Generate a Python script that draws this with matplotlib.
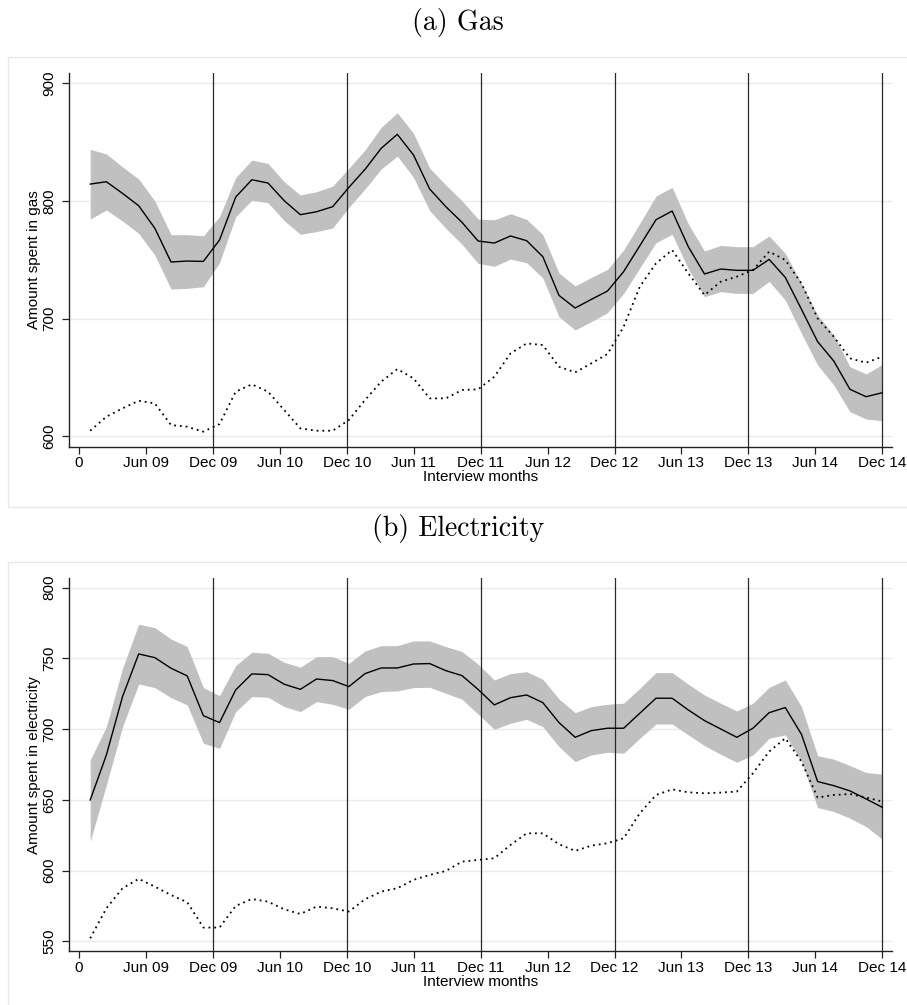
import numpy as np
import matplotlib
matplotlib.use("Agg")
import matplotlib.pyplot as plt
from matplotlib.patches import Rectangle

plt.rcParams['font.family'] = ['Liberation Sans', 'DejaVu Sans']

# survey waves, placed on a month axis (0 = Dec 08, 72 = Dec 14)
months = np.linspace(1, 72, 50)
tick_pos = [0, 6, 12, 18, 24, 30, 36, 42, 48, 54, 60, 66, 72]
tick_labels = ['0', 'Jun 09', 'Dec 09', 'Jun 10', 'Dec 10', 'Jun 11', 'Dec 11',
               'Jun 12', 'Dec 12', 'Jun 13', 'Dec 13', 'Jun 14', 'Dec 14']
dec_lines = [12, 24, 36, 48, 60, 72]

# gas
gas_mean = [814.4, 816.4, 806.5, 796.0, 776.8, 748.2, 749.0, 748.7, 766.9, 803.4,
            818.1, 815.3, 800.3, 788.4, 790.9, 795.2, 811.6, 826.9, 844.8, 856.7,
            839.1, 810.2, 795.2, 781.9, 766.0, 764.3, 770.3, 766.3, 752.7, 719.8,
            709.1, 716.4, 723.5, 740.0, 762.0, 784.1, 791.5, 761.2, 738.0, 742.2,
            741.1, 741.1, 750.4, 735.1, 708.0, 680.5, 664.0, 640.0, 633.7, 637.1]
gas_hi = [843.9, 840.0, 829.0, 818.7, 800.0, 771.4, 771.4, 770.5, 786.7, 820.0,
          834.8, 832.0, 816.4, 805.1, 807.9, 812.7, 827.8, 843.3, 862.6, 875.0,
          857.5, 828.0, 813.6, 800.3, 784.7, 784.0, 789.2, 784.4, 771.4, 738.8,
          727.8, 735.1, 741.9, 758.4, 781.0, 804.2, 811.6, 780.5, 757.5, 762.3,
          761.2, 761.2, 770.3, 755.5, 730.0, 703.1, 686.1, 659.2, 653.0, 661.2]
gas_lo = [784.7, 792.4, 783.0, 772.5, 754.0, 725.2, 725.8, 727.2, 747.6, 786.7,
          800.8, 798.6, 783.3, 771.7, 774.0, 777.1, 794.6, 810.2, 827.2, 838.2,
          820.1, 791.8, 776.8, 763.2, 747.0, 744.5, 750.7, 747.6, 734.6, 701.7,
          690.4, 697.5, 705.1, 721.5, 743.1, 764.6, 771.7, 742.5, 718.7, 723.0,
          721.5, 721.5, 731.7, 715.9, 687.5, 660.6, 643.6, 621.0, 614.7, 613.3]
gas_ref = [604.8, 616.7, 623.8, 630.3, 628.0, 609.6, 608.2, 604.0, 610.5, 638.0,
           644.2, 638.0, 622.4, 606.8, 604.8, 604.8, 613.9, 630.9, 646.5, 657.2,
           649.3, 632.3, 632.3, 639.4, 640.0, 650.7, 670.5, 679.0, 677.6, 659.2,
           654.4, 662.0, 670.0, 693.2, 727.2, 747.0, 758.4, 738.5, 720.1, 731.4,
           735.7, 741.4, 757.0, 749.9, 730.0, 700.3, 684.7, 666.3, 662.6, 667.7]

# electricity
elec_mean = [649.9, 681.7, 723.0, 753.1, 750.5, 743.0, 737.6, 709.5, 704.6, 727.7,
             739.0, 738.5, 731.7, 728.1, 735.4, 734.3, 730.0, 739.2, 743.2, 743.2,
             746.0, 746.3, 741.3, 737.8, 728.0, 717.1, 722.2, 724.1, 718.7, 704.6,
             694.2, 698.9, 700.6, 700.6, 711.2, 721.8, 721.8, 713.5, 706.0, 700.1,
             694.2, 700.6, 711.6, 715.2, 696.3, 662.9, 660.0, 656.3, 650.6, 644.7]
elec_hi = [678.2, 701.7, 743.0, 774.1, 771.7, 763.7, 758.3, 729.3, 723.7, 744.9,
           754.3, 753.6, 747.2, 743.7, 751.2, 751.2, 746.5, 755.2, 759.0, 759.0,
           762.3, 762.3, 758.3, 754.8, 745.8, 734.7, 739.2, 740.6, 735.2, 721.3,
           711.6, 715.9, 717.5, 718.3, 728.8, 739.9, 739.9, 731.7, 724.1, 718.3,
           712.8, 718.3, 729.5, 734.7, 715.9, 681.2, 678.7, 674.2, 669.3, 668.1]
elec_lo = [620.5, 660.5, 701.7, 731.9, 729.3, 722.2, 717.1, 690.0, 686.4, 712.3,
           723.0, 722.5, 715.9, 712.3, 719.4, 717.5, 714.0, 723.0, 726.5, 727.0,
           729.3, 729.5, 725.3, 721.1, 710.5, 699.9, 704.1, 706.9, 701.7, 687.6,
           677.0, 681.7, 683.6, 682.9, 693.5, 703.6, 703.6, 695.9, 688.3, 682.2,
           676.5, 681.7, 693.5, 695.9, 677.0, 644.5, 641.7, 637.0, 631.1, 622.1]
elec_ref = [552.1, 573.3, 587.5, 594.1, 588.6, 582.7, 577.6, 559.7, 559.7, 575.0,
            579.9, 578.0, 572.6, 569.3, 574.5, 573.3, 571.0, 579.7, 585.1, 587.5,
            593.4, 596.9, 599.7, 606.3, 607.5, 608.7, 618.1, 626.3, 626.3, 618.6,
            613.9, 617.6, 619.3, 622.8, 640.5, 653.4, 657.4, 655.3, 654.6, 655.1,
            655.8, 668.8, 684.1, 693.5, 677.0, 651.6, 653.4, 654.1, 651.6, 648.8]

fig = plt.figure(figsize=(9.07, 10.05), dpi=100)

# light frame around each panel
fig.patches.append(Rectangle((0.0092, 0.4955), 1.0, 0.4475, transform=fig.transFigure,
                             fill=False, edgecolor='#e8e8e8', lw=1))
fig.patches.append(Rectangle((0.0092, -0.01), 1.0, 0.4505, transform=fig.transFigure,
                             fill=False, edgecolor='#e8e8e8', lw=1))

fig.text(0.505, 0.9701, '(a) Gas', family='cmr10', fontsize=20, ha='center', va='baseline')
fig.text(0.505, 0.4662, '(b) Electricity', family='cmr10', fontsize=20, ha='center', va='baseline')


def panel(ax, mean, lo, hi, ref, ylim, yticks, ylabel):
    ax.fill_between(months, lo, hi, color='#c0c0c0', lw=0, zorder=1)
    ax.plot(months, mean, color='black', lw=1.0, zorder=3)
    ax.plot(months, ref, color='black', lw=1.3, linestyle=(0, (1, 2.2)), zorder=3)
    for m in dec_lines:
        ax.axvline(m, color='#2a2a2a', lw=0.9, zorder=2)
    ax.set_xlim(-0.9, 72.85)
    ax.set_ylim(*ylim)
    ax.set_yticks(yticks)
    ax.set_yticklabels([str(t) for t in yticks], rotation=90, va='center')
    ax.set_xticks(tick_pos)
    ax.set_xticklabels(tick_labels)
    ax.grid(axis='y', color='#eaeaea', lw=1, zorder=0)
    ax.set_axisbelow(True)
    for s in ['top', 'right']:
        ax.spines[s].set_visible(False)
    for s in ['left', 'bottom']:
        ax.spines[s].set_color('#222222')
        ax.spines[s].set_linewidth(1.0)
    ax.tick_params(axis='both', labelsize=11, length=5, width=0.9, color='#222222')
    ax.tick_params(axis='y', pad=4)
    ax.tick_params(axis='x', pad=2)
    ax.set_xlabel('Interview months', fontsize=11, labelpad=0)
    ax.set_ylabel(ylabel, fontsize=11, labelpad=1)


ax1 = fig.add_axes([0.0761, 0.5555, 0.9071, 0.3715])
panel(ax1, gas_mean, gas_lo, gas_hi, gas_ref, (591.2, 908.5),
      [600, 700, 800, 900], 'Amount spent in gas')

ax2 = fig.add_axes([0.0761, 0.0537, 0.9071, 0.3709])
panel(ax2, elec_mean, elec_lo, elec_hi, elec_ref, (543.1, 806.6),
      [550, 600, 650, 700, 750, 800], 'Amount spent in electricity')

fig.savefig('out.png', dpi=100)
